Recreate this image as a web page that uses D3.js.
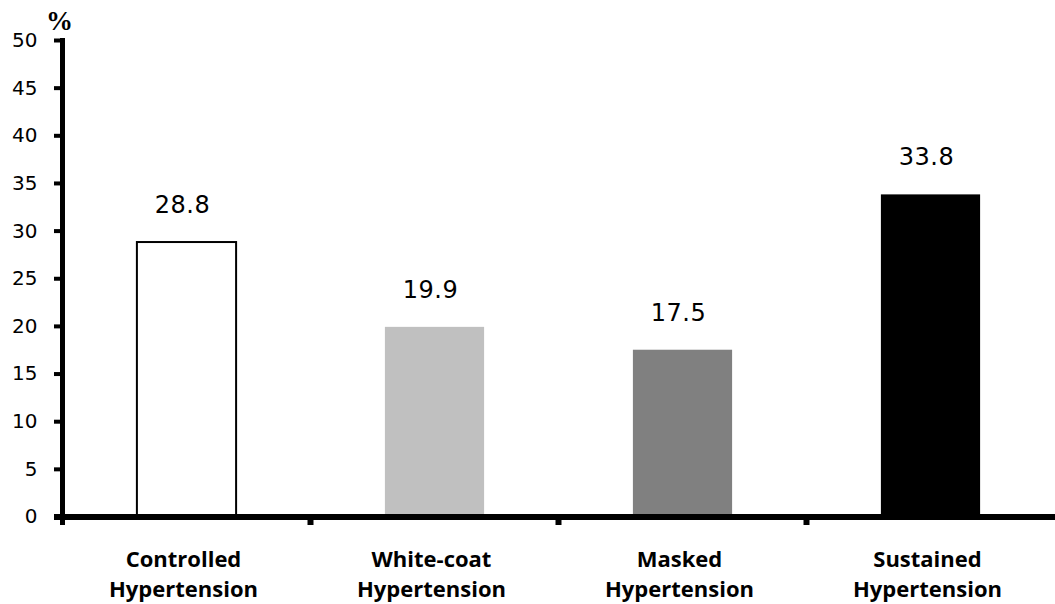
<!DOCTYPE html>
<html>
<head>
<meta charset="utf-8">
<script src="https://cdn.jsdelivr.net/npm/d3@7"></script>
<style>
  html, body { margin: 0; padding: 0; background: #fff; }
  svg { display: block; }
</style>
</head>
<body>
<script>
const categories = ["Controlled|Hypertension", "White-coat|Hypertension", "Masked|Hypertension", "Sustained|Hypertension"];
const values = [28.8, 19.9, 17.5, 33.8];
const valueLabels = ["28.8", "19.9", "17.5", "33.8"];
const barColors = ["#ffffff", "#c0c0c0", "#808080", "#000000"];
const yTicks = [0, 5, 10, 15, 20, 25, 30, 35, 40, 45, 50];
const yUnit = "%";

const W = 1055, H = 604;
const svg = d3.select("body").append("svg").attr("width", W).attr("height", H);

const x = d3.scaleBand().domain(categories).range([62.5, 1054.5]).padding(0);
const y = d3.scaleLinear().domain([0, 50]).range([516.5, 40]);
const bw = x.bandwidth();

// bars
svg.selectAll("rect.bar").data(values).enter().append("rect")
  .attr("class", "bar")
  .attr("x", (d, i) => x(categories[i]) + bw * 0.3)
  .attr("width", bw * 0.4)
  .attr("y", d => y(d))
  .attr("height", d => y(0) - y(d))
  .attr("fill", (d, i) => barColors[i])
  .attr("stroke", (d, i) => i === 0 ? "#000" : "none")
  .attr("stroke-width", 2);

// value labels
svg.selectAll("text.val").data(values).enter().append("text")
  .attr("class", "val")
  .attr("x", (d, i) => x(categories[i]) + bw / 2 - 4)
  .attr("y", d => y(d) - 29)
  .attr("text-anchor", "middle")
  .attr("font-family", "DejaVu Sans")
  .attr("font-size", 24)
  .attr("letter-spacing", 0.5)
  .attr("fill", "#000")
  .text((d, i) => valueLabels[i]);

// y axis
const yAxis = d3.axisLeft(y).tickValues(yTicks).tickSize(0).tickPadding(0);
const gy = svg.append("g").attr("transform", "translate(62.5,0)").call(yAxis);
gy.select(".domain").remove();
gy.selectAll(".tick line").remove();
gy.selectAll(".tick text")
  .attr("x", -25)
  .attr("font-family", "DejaVu Sans")
  .attr("font-size", 20)
  .attr("fill", "#000");
gy.selectAll(".tick").append("line")
  .attr("x1", -8.5).attr("x2", 0)
  .attr("stroke", "#000").attr("stroke-width", 4);
svg.append("line")
  .attr("x1", 62.5).attr("x2", 62.5)
  .attr("y1", y(50) - 2).attr("y2", 525)
  .attr("stroke", "#000").attr("stroke-width", 5);

// x axis
svg.append("line")
  .attr("x1", 54).attr("x2", 1055)
  .attr("y1", 517).attr("y2", 517)
  .attr("stroke", "#000").attr("stroke-width", 6);
svg.selectAll("line.xt").data(categories.slice(1)).enter().append("line")
  .attr("class", "xt")
  .attr("x1", d => x(d)).attr("x2", d => x(d))
  .attr("y1", 517).attr("y2", 525)
  .attr("stroke", "#000").attr("stroke-width", 6);

// category labels
const cl = svg.selectAll("text.cat").data(categories).enter().append("text")
  .attr("class", "cat")
  .attr("text-anchor", "middle")
  .attr("font-family", "Open Sans")
  .attr("font-weight", "bold")
  .attr("font-size", 22)
  .attr("fill", "#000");
cl.each(function(d) {
  const parts = d.split("|");
  const cx = x(d) + bw / 2 - 3;
  d3.select(this).selectAll("tspan").data(parts).enter().append("tspan")
    .attr("x", cx)
    .attr("y", (p, j) => 567 + j * 30)
    .text(p => p);
});

// unit label
svg.append("text")
  .attr("x", 46).attr("y", 30)
  .attr("font-family", "Liberation Serif")
  .attr("font-weight", "bold")
  .attr("font-size", 27)
  .attr("fill", "#000")
  .text(yUnit);
</script>
</body>
</html>
